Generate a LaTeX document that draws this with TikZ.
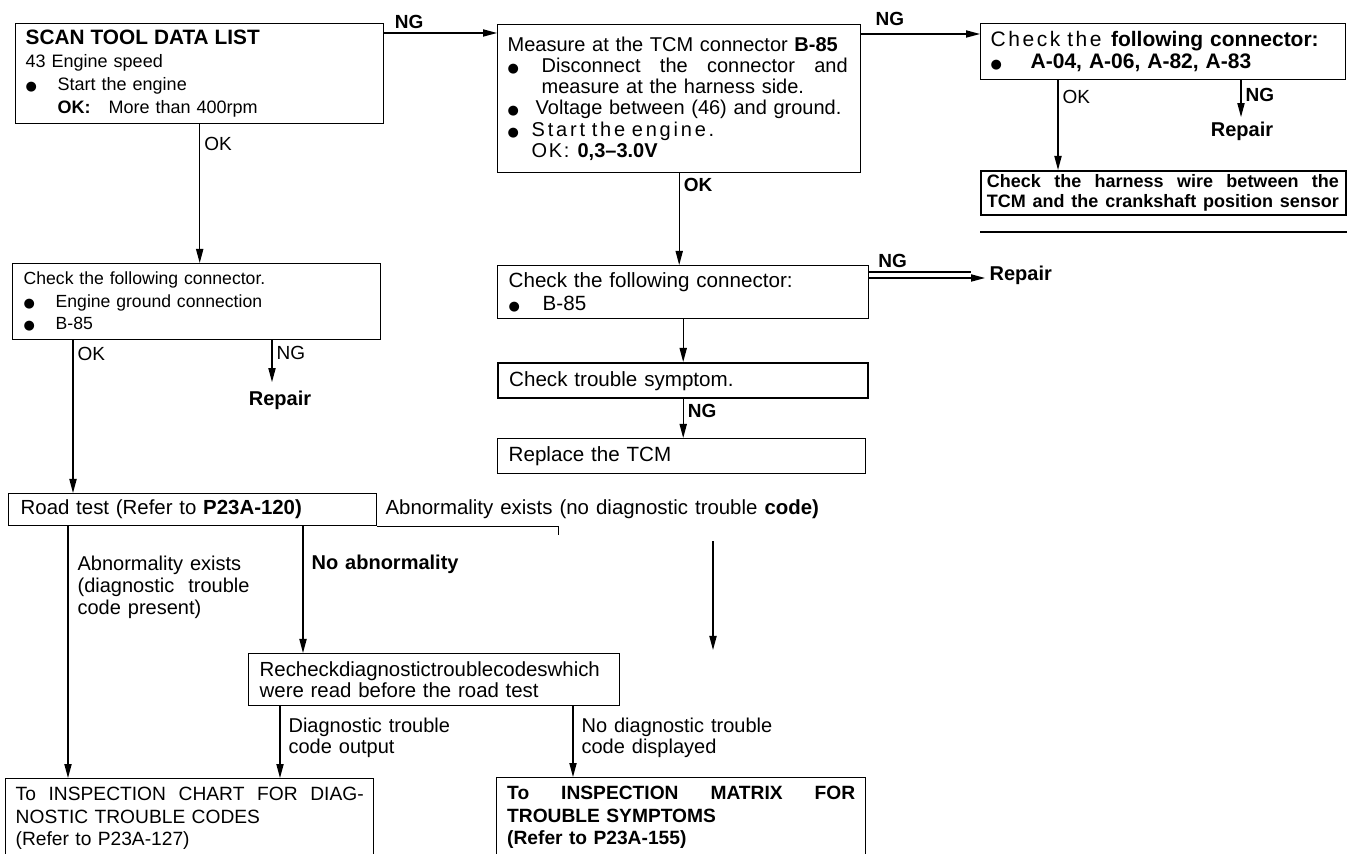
\documentclass[tikz,border=0pt]{standalone}
\usepackage{fontspec}
\setmainfont{Liberation Sans}[WordSpace=1.25]
\newfontfamily\dotfont{DejaVu Sans}
\usetikzlibrary{arrows.meta, positioning}

\newcommand{\bul}[1][16pt]{\makebox[#1][l]{\dotfont\fontsize{6.5}{6.5}\selectfont ●}}

\begin{document}
\begin{tikzpicture}[
        x=0.5pt, y=-0.5pt,
        >={Triangle[length=7pt,width=3.6pt]},
        line width=0.6pt,
        box/.style={draw, line width=0.7pt, anchor=north west, align=left, inner xsep=5pt, inner ysep=0pt},
        heavy/.style={box, line width=1.2pt},
        lbl/.style={inner sep=2pt, font=\fontsize{9.5}{11}\selectfont},
        ng/.style={inner sep=2pt, font=\fontsize{9.5}{11}\selectfont\bfseries}
    ]
    \useasboundingbox (0,0) rectangle (1359,854);

    % top row
    \node[box, minimum width=184pt, minimum height=50pt, text width=174pt, font=\fontsize{9}{11.5}\selectfont] (scan) at (15,23)
        {{\fontsize{10.4}{11.5}\selectfont\bfseries SCAN TOOL DATA LIST}\\ 43 Engine speed\\ \bul Start the engine\\ \hspace*{16pt}\textbf{OK:}\hspace{9pt}More than 400rpm};
    \node[box, minimum width=181.5pt, minimum height=74pt, text width=171.5pt, font=\fontsize{10}{10.6}\selectfont] (meas) at (497,24)
        {Measure at the TCM connector \textbf{B-85}\\
         \bul[17pt]\hbox to 153pt{Disconnect \hfill the \hfill connector \hfill and}\\
         \hspace*{17pt}measure at the harness side.\\
         \bul[14pt]Voltage between (46) and ground.\\
         \bul[12pt]{\addfontfeature{LetterSpace=14}Start the engine.}\\
         \hspace*{12pt}{\addfontfeature{LetterSpace=8}OK:}\ \textbf{0,3–3.0V}};
    \node[box, minimum width=182.5pt, minimum height=28pt, text width=172.5pt, font=\fontsize{10.5}{11}\selectfont] (fconn) at (980,23)
        {{\addfontfeature{LetterSpace=12}Check the} \textbf{following connector:}\\
         \bul[20pt]\textbf{A-04, A-06, A-82, A-83}};
    \node[box, line width=0.9pt, minimum width=182.5pt, minimum height=22pt, text width=176.5pt, inner xsep=3pt, font=\fontsize{9}{9.6}\selectfont\bfseries] (harn) at (980,170)
        {\hbox to 176pt{Check \hfill the \hfill harness \hfill wire \hfill between \hfill the}\\
         \hbox to 176pt{TCM \hfill and \hfill the \hfill crankshaft \hfill position \hfill sensor}};
    \draw[line width=1pt] ([yshift=-8pt]harn.south west) -- ([yshift=-8pt]harn.south east);

    % middle row
    \node[box, minimum width=184pt, minimum height=38pt, text width=173pt, inner xsep=5.5pt, font=\fontsize{8.8}{11.2}\selectfont] (gnd) at (12,263)
        {Check the following connector.\\ \bul Engine ground connection\\ \bul B-85};
    \node[box, minimum width=185.5pt, minimum height=26.5pt, text width=174.5pt, inner xsep=5.5pt, font=\fontsize{10.3}{11.5}\selectfont] (conn) at (497,265)
        {Check the following connector:\\ \bul[17pt]B-85};
    \node[heavy, minimum width=185pt, minimum height=17.5pt, text width=174pt, inner xsep=5.5pt, font=\fontsize{10.3}{11.5}\selectfont] (trbl) at (497,362)
        {Check trouble symptom.};
    \node[box, minimum width=184pt, minimum height=17.5pt, text width=173pt, inner xsep=5.5pt, font=\fontsize{10.3}{11.5}\selectfont] (repl) at (497,438)
        {Replace the TCM};
    \node[ng, font=\fontsize{10}{11}\selectfont\bfseries] (rep1) at (280,400) {Repair};
    \node[ng, anchor=west, font=\fontsize{10}{11}\selectfont\bfseries] (rep2) at (985,275) {Repair};
    \node[ng, font=\fontsize{10}{11}\selectfont\bfseries] (rep3) at (1242,131) {Repair};

    % lower part
    \node[box, minimum width=184pt, minimum height=16pt, text width=172pt, inner xsep=6pt, font=\fontsize{10.2}{11}\selectfont] (road) at (8,493)
        {Road test (Refer to \textbf{P23A-120)}};
    \node[anchor=west, inner sep=1pt, font=\fontsize{10.2}{11}\selectfont] (abn) at (383,509)
        {Abnormality exists (no diagnostic trouble \textbf{code)}};
    \node[lbl, anchor=north west, align=left, font=\fontsize{10}{11}\selectfont] (dtclbl) at (73,551)
        {Abnormality exists\\ (diagnostic\hspace{7pt}trouble\\ code present)};
    \node[box, minimum width=185.5pt, minimum height=26pt, text width=174.5pt, inner xsep=5.5pt, font=\fontsize{10.2}{10.2}\selectfont] (rchk) at (248,653)
        {Recheckdiagnostictroublecodeswhich\\ were read before the road test};
    \node[box, minimum width=184pt, minimum height=40pt, text width=174pt, font=\fontsize{9.6}{11.25}\selectfont] (chart) at (5,778)
        {\hbox to 174pt{To \hfill INSPECTION \hfill CHART \hfill FOR \hfill DIAG-}\\ NOSTIC TROUBLE CODES\\ (Refer to P23A-127)};
    \node[box, minimum width=184.5pt, minimum height=40pt, text width=174pt, inner xsep=5.25pt, font=\fontsize{9.6}{11.25}\selectfont\bfseries] (mtrx) at (496,777)
        {\hbox to 174pt{To \hfill INSPECTION \hfill MATRIX \hfill FOR}\\ TROUBLE SYMPTOMS\\ (Refer to P23A-155)};

    \coordinate (gndok) at (73,0);
    \coordinate (gndng) at (272,0);
    \coordinate (fok) at (1058,0);
    \coordinate (fng) at (1241,0);
    \coordinate (dtcol) at (68,0);
    \coordinate (nacol) at (303,0);
    \coordinate (dcol) at (280,0);
    \coordinate (ndcol) at (573,0);
    \coordinate (abend) at (713,650);

    % connectors
    \draw[->] ([yshift=-5pt]scan.north east) -- node[ng, pos=0.22, above] {NG} ([yshift=-5pt]scan.north east -| meas.west);
    \draw[->] (scan.south) -- node[lbl, pos=0.14, anchor=west] {OK} (scan.south |- gnd.north);
    \draw[->] (gndok |- gnd.south) -- node[lbl, pos=0.09, anchor=west] {OK} (gndok |- road.north);
    \draw[->, shorten >=2pt] (gndng |- gnd.south) -- node[lbl, pos=0.28, anchor=west] {NG} (gndng |- rep1.north);
    \draw[->] ([yshift=-5pt]meas.north east) -- node[ng, pos=0.24, above=2pt] {NG} ([yshift=-5pt]meas.north east -| fconn.west);
    \draw[->] (meas.south) -- node[ng, pos=0.13, anchor=west] {OK} (meas.south |- conn.north);
    \draw[->] (fok |- fconn.south) -- node[lbl, pos=0.19, anchor=west] {OK} (fok |- harn.north);
    \draw[->] (fng |- fconn.south) -- node[ng, pos=0.4, anchor=west] {NG} (fng |- rep3.north);
    \draw[shorten >=7pt] ([yshift=-3.5pt]conn.north east) -- ([yshift=-3.5pt]conn.north east -| rep2.west);
    \draw[->] ([yshift=-6.5pt]conn.north east) -- node[ng, pos=0.2, above=3pt] {NG} ([yshift=-6.5pt]conn.north east -| rep2.west);
    \draw[->] (conn.south) -- (conn.south |- trbl.north);
    \draw[->] (trbl.south) -- node[ng, pos=0.3, anchor=west] {NG} (trbl.south |- repl.north);

    \draw[->] (dtcol |- road.south) -- (dtcol |- chart.north);
    \draw[->] (nacol |- road.south) -- node[ng, pos=0.3, anchor=west, inner xsep=4pt, font=\fontsize{10}{11}\selectfont\bfseries] {No abnormality} (nacol |- rchk.north);
    \draw (road.south east) -- ++(181,0) -- ++(0,9);
    \draw[->, shorten <=10pt] (abn.south -| abend) -- (abend);
    \draw[->] (dcol |- rchk.south) -- node[lbl, pos=0.1, anchor=north west, inner xsep=4pt, align=left, font=\fontsize{10}{10.5}\selectfont]
        {Diagnostic trouble\\ code output} (dcol |- chart.north);
    \draw[->] (ndcol |- rchk.south) -- node[lbl, pos=0.1, anchor=north west, inner xsep=4pt, align=left, font=\fontsize{10}{10.5}\selectfont]
        {No diagnostic trouble\\ code displayed} (ndcol |- mtrx.north);
\end{tikzpicture}
\end{document}
